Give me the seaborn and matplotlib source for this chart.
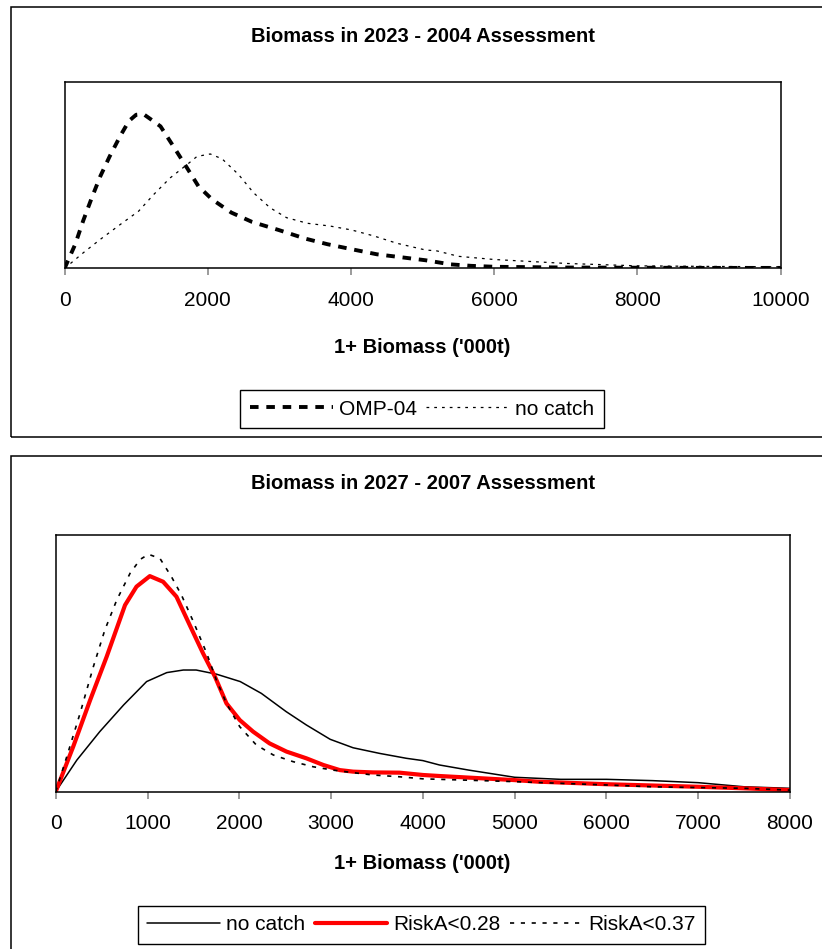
"""Two biomass distribution panels (2004 and 2007 assessments)."""

import matplotlib
matplotlib.use("Agg")
import matplotlib.pyplot as plt
from matplotlib.patches import Rectangle
import pandas as pd
import seaborn as sns

# --- top panel: Biomass in 2023 - 2004 Assessment (relative frequency) ---
OMP04_X = [0, 150, 260, 380, 500, 630, 780, 900, 1000, 1100, 1200, 1340, 1520,
           1690, 1870, 2060, 2330, 2620, 2990, 3360, 3670, 4010, 4360, 4660,
           5040, 5390, 5680, 6010, 6500, 7000, 8000, 9000, 10000]
OMP04_Y = [0, 0.13, 0.255, 0.378, 0.494, 0.60, 0.711, 0.79, 0.823, 0.827, 0.80,
           0.761, 0.654, 0.551, 0.44, 0.37, 0.299, 0.249, 0.206, 0.16, 0.13,
           0.103, 0.076, 0.062, 0.044, 0.022, 0.014, 0.009, 0.007, 0.005,
           0.004, 0.003, 0.003]
NOCATCH04_X = [0, 265, 500, 780, 1035, 1245, 1475, 1710, 1850, 2035, 2200, 2430,
               2640, 2870, 3100, 3390, 3710, 4010, 4320, 4640, 5040, 5200, 5500,
               6000, 7000, 8000, 9000, 10000]
NOCATCH04_Y = [0, 0.085, 0.156, 0.236, 0.307, 0.396, 0.485, 0.556, 0.60, 0.613,
               0.587, 0.503, 0.405, 0.325, 0.272, 0.242, 0.227, 0.206, 0.174,
               0.135, 0.099, 0.094, 0.065, 0.048, 0.027, 0.014, 0.011, 0.009]

# --- bottom panel: Biomass in 2027 - 2007 Assessment ---
NOCATCH07_X = [0, 230, 480, 740, 990, 1210, 1390, 1530, 1750, 2010, 2240, 2510,
               2730, 2990, 3240, 3530, 3820, 4000, 4180, 4500, 5000, 5500, 6000,
               6500, 7000, 7500, 8000]
NOCATCH07_Y = [0, 0.123, 0.234, 0.338, 0.429, 0.464, 0.474, 0.474, 0.458, 0.429,
               0.383, 0.312, 0.26, 0.204, 0.171, 0.149, 0.13, 0.121, 0.104,
               0.084, 0.056, 0.048, 0.048, 0.043, 0.035, 0.019, 0.013]
RISK28_X = [0, 190, 375, 555, 755, 880, 1025, 1170, 1315, 1460, 1605, 1735, 1860,
            2005, 2150, 2330, 2515, 2730, 2915, 3095, 3240, 3455, 3745, 4000,
            4180, 5000, 5250, 6000, 7000, 7500, 8000]
RISK28_Y = [0, 0.175, 0.357, 0.526, 0.727, 0.799, 0.84, 0.818, 0.76, 0.649,
            0.539, 0.448, 0.344, 0.279, 0.234, 0.188, 0.156, 0.13, 0.104, 0.084,
            0.078, 0.075, 0.074, 0.065, 0.061, 0.045, 0.039, 0.029, 0.019,
            0.013, 0.006]
RISK37_X = [0, 120, 265, 410, 535, 665, 810, 920, 1010, 1135, 1260, 1370, 1500,
            1645, 1750, 1860, 2005, 2185, 2370, 2585, 2805, 3020, 3240, 3455,
            3745, 4000, 4180, 5000, 6000, 6500, 7000, 7500, 8000]
RISK37_Y = [0, 0.136, 0.305, 0.487, 0.63, 0.747, 0.851, 0.905, 0.925, 0.909,
            0.838, 0.766, 0.662, 0.539, 0.435, 0.344, 0.253, 0.182, 0.143, 0.117,
            0.097, 0.084, 0.074, 0.065, 0.058, 0.05, 0.048, 0.039, 0.026, 0.019,
            0.016, 0.013, 0.006]

TOP_TICKS = [0, 2000, 4000, 6000, 8000, 10000]
BOTTOM_TICKS = [0, 1000, 2000, 3000, 4000, 5000, 6000, 7000, 8000]

TITLE_TOP = "Biomass in 2023 - 2004 Assessment"
TITLE_BOTTOM = "Biomass in 2027 - 2007 Assessment"
XLABEL = "1+ Biomass ('000t)"


def _line(ax, xs, ys, label, **kws):
    df = pd.DataFrame({"x": xs, "y": ys})
    sns.lineplot(data=df, x="x", y="y", ax=ax, label=label, errorbar=None,
                 estimator=None, sort=False, **kws)


def _style_axes(ax, xmax, ticks):
    ax.set_xlim(0, xmax)
    ax.set_ylim(0, 1)
    ax.set_xticks(ticks)
    ax.set_xticklabels([str(t) for t in ticks])
    ax.set_yticks([])
    ax.set_xlabel("")
    ax.set_ylabel("")
    for sp in ax.spines.values():
        sp.set_visible(True)
        sp.set_color("black")
        sp.set_linewidth(1.1)
    ax.tick_params(axis="x", direction="out", length=5, width=1.1,
                   color="#808080", labelcolor="black", pad=11, labelsize=15,
                   bottom=True)


def _legend(ax, anchor, ncol, handlelength):
    leg = ax.legend(loc="center", bbox_to_anchor=anchor,
                    bbox_transform=ax.figure.transFigure, ncol=ncol, frameon=True,
                    fancybox=False, edgecolor="black", framealpha=1, fontsize=15,
                    handlelength=handlelength, handletextpad=0.28,
                    columnspacing=0.45, borderpad=0.45, borderaxespad=0)
    leg.get_frame().set_linewidth(1.0)
    for t in leg.get_texts():
        t.set_color("black")


def main():
    sns.set_style("white")
    plt.rcParams["font.family"] = ["Liberation Sans", "DejaVu Sans"]
    plt.rcParams["text.color"] = "black"

    fig = plt.figure(figsize=(8.22, 9.49), dpi=100)

    # outer frames of the two chart objects (cut at the page edge)
    fig.add_artist(Rectangle((0.0134, 0.5395), 1.1, 0.4531, transform=fig.transFigure,
                             fill=False, ec="black", lw=1.1))
    fig.add_artist(Rectangle((0.0134, -0.1), 1.1, 0.6195, transform=fig.transFigure,
                             fill=False, ec="black", lw=1.1))

    ax1 = fig.add_axes([0.0785, 0.7171, 0.8713, 0.1968])
    _line(ax1, OMP04_X, OMP04_Y, "OMP-04", color="black", linewidth=2.8,
          linestyle=(0, (2.2, 2.0)))
    _line(ax1, NOCATCH04_X, NOCATCH04_Y, "no catch", color="black", linewidth=0.9,
          linestyle=(0, (2.2, 4)))
    _style_axes(ax1, 10000, TOP_TICKS)
    _legend(ax1, (0.5134, 0.569), 2, 4.0)

    ax2 = fig.add_axes([0.0678, 0.1658, 0.8933, 0.2704])
    _line(ax2, NOCATCH07_X, NOCATCH07_Y, "no catch", color="black", linewidth=1.1)
    _line(ax2, RISK28_X, RISK28_Y, "RiskA<0.28", color="#ff0000", linewidth=3.0)
    _line(ax2, RISK37_X, RISK37_Y, "RiskA<0.37", color="black", linewidth=1.2,
          linestyle=(0, (2.5, 4)))
    _style_axes(ax2, 8000, BOTTOM_TICKS)
    _legend(ax2, (0.513, 0.0253), 3, 3.5)

    for y, txt in [(0.962, TITLE_TOP), (0.634, XLABEL),
                   (0.491, TITLE_BOTTOM), (0.0906, XLABEL)]:
        fig.text(0.514, y, txt, ha="center", va="center", fontsize=14.5,
                 fontweight="bold", color="black")

    fig.savefig("out.png", dpi=100)
    plt.close(fig)


if __name__ == "__main__":
    main()
